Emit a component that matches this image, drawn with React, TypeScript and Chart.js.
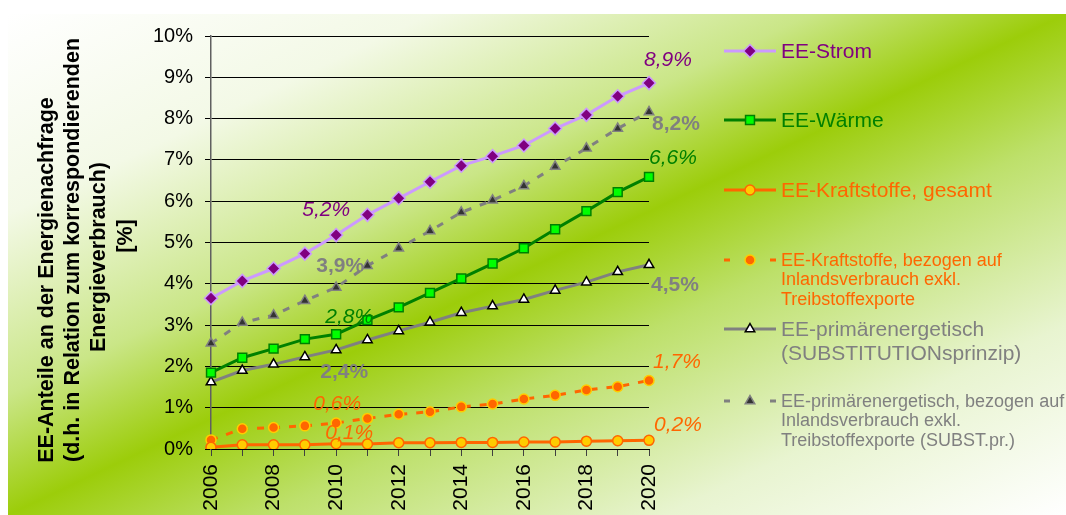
import React, { useEffect, useRef } from 'react';
import { Chart, registerables } from 'chart.js';
import { drawPoint } from 'chart.js/helpers';

Chart.register(...registerables);

// Years on the x axis
const years = ['2006', '2007', '2008', '2009', '2010', '2011', '2012', '2013', '2014', '2015', '2016', '2017', '2018', '2019', '2020'];

// Shares of renewables in %
const eeStrom = [3.65, 4.07, 4.37, 4.73, 5.18, 5.67, 6.07, 6.47, 6.86, 7.09, 7.35, 7.76, 8.09, 8.54, 8.86];
const eeWaerme = [1.85, 2.21, 2.43, 2.66, 2.78, 3.12, 3.43, 3.78, 4.13, 4.49, 4.86, 5.32, 5.76, 6.22, 6.59];
const eeKraftGesamt = [0.04, 0.1, 0.1, 0.1, 0.13, 0.12, 0.15, 0.15, 0.16, 0.16, 0.17, 0.17, 0.19, 0.2, 0.21];
const eeKraftInland = [0.22, 0.49, 0.52, 0.56, 0.63, 0.74, 0.84, 0.9, 1.02, 1.09, 1.21, 1.3, 1.43, 1.51, 1.66];
const eePrimaer = [1.62, 1.9, 2.05, 2.23, 2.4, 2.64, 2.86, 3.07, 3.3, 3.46, 3.62, 3.84, 4.04, 4.29, 4.46];
const eePrimaerInland = [2.56, 3.06, 3.24, 3.59, 3.91, 4.44, 4.86, 5.28, 5.73, 6.02, 6.37, 6.84, 7.28, 7.76, 8.16];

// Y axis ticks
const yTicks = [0, 1, 2, 3, 4, 5, 6, 7, 8, 9, 10];

// Legend texts
const legendStrom = ['EE-Strom'];
const legendWaerme = ['EE-Wärme'];
const legendKraftGesamt = ['EE-Kraftstoffe, gesamt'];
const legendKraftInland = ['EE-Kraftstoffe, bezogen auf', 'Inlandsverbrauch exkl.', 'Treibstoffexporte'];
const legendPrimaer = ['EE-primärenergetisch', '(SUBSTITUTIONsprinzip)'];
const legendPrimaerInland = ['EE-primärenergetisch, bezogen auf', 'Inlandsverbrauch exkl.', 'Treibstoffexporte (SUBST.pr.)'];

// Y axis title lines
const yTitle = ['EE-Anteile an der Energienachfrage', '(d.h. in Relation zum korrespondierenden', 'Energieverbrauch)', '[%]'];

const FONT = "'Liberation Sans', Arial, sans-serif";

type LabelSpec = { index: number; dx: number; dy: number };

const fmt = (v: number) => v.toFixed(1).replace('.', ',') + '%';

// Per-series styling, value-label placement and legend placement
const seriesStyles = [
  {
    label: legendStrom, data: eeStrom, line: '#cc99ff', color: '#800080', dash: [] as number[],
    pointStyle: 'rectRot', radius: 6.5, fill: '#800080', border: '#cc99ff',
    valueFont: 'italic', labels: [{ index: 4, dx: -10, dy: -25 }, { index: 14, dx: 19, dy: -23 }] as LabelSpec[],
    legend: { size: 21, lineH: 24, y: 51 },
  },
  {
    label: legendWaerme, data: eeWaerme, line: '#008000', color: '#008000', dash: [] as number[],
    pointStyle: 'rect', radius: 6.3, fill: '#00ff00', border: '#008000',
    valueFont: 'italic', labels: [{ index: 4, dx: 13, dy: -17 }, { index: 14, dx: 24, dy: -19 }] as LabelSpec[],
    legend: { size: 21, lineH: 24, y: 120 },
  },
  {
    label: legendKraftGesamt, data: eeKraftGesamt, line: '#ff6600', color: '#ff6600', dash: [] as number[],
    pointStyle: 'circle', radius: 5, fill: '#ffcc00', border: '#ff6600',
    valueFont: 'italic', labels: [{ index: 4, dx: 13, dy: -10 }, { index: 14, dx: 29, dy: -15 }] as LabelSpec[],
    legend: { size: 21, lineH: 24, y: 190 },
  },
  {
    label: legendKraftInland, data: eeKraftInland, line: '#ff6600', color: '#ff6600', dash: [7, 9],
    pointStyle: 'circle', radius: 5, fill: '#ff6600', border: '#ffcc00',
    valueFont: 'italic', labels: [{ index: 4, dx: 1, dy: -19 }, { index: 14, dx: 28, dy: -18 }] as LabelSpec[],
    legend: { size: 18, lineH: 19.5, y: 260 },
  },
  {
    label: legendPrimaer, data: eePrimaer, line: '#808080', color: '#808080', dash: [] as number[],
    pointStyle: 'triangle', radius: 5.5, fill: '#ffffff', border: '#000000',
    valueFont: 'bold', labels: [{ index: 4, dx: 8, dy: 22 }, { index: 14, dx: 26, dy: 20 }] as LabelSpec[],
    legend: { size: 21, lineH: 24, y: 329 },
  },
  {
    label: legendPrimaerInland, data: eePrimaerInland, line: '#808080', color: '#808080', dash: [7, 9],
    pointStyle: 'triangle', radius: 5.5, fill: '#333333', border: '#808080',
    valueFont: 'bold', labels: [{ index: 4, dx: 4, dy: -21 }, { index: 14, dx: 27, dy: 12 }] as LabelSpec[],
    legend: { size: 18, lineH: 19.5, y: 401 },
  },
];

// Draws value labels next to selected points
const valueLabelPlugin = {
  id: 'valueLabels',
  afterDatasetsDraw(chart: any) {
    const ctx = chart.ctx;
    ctx.save();
    ctx.textAlign = 'center';
    ctx.textBaseline = 'middle';
    seriesStyles.forEach((s, di) => {
      const meta = chart.getDatasetMeta(di);
      s.labels.forEach((l) => {
        const el = meta.data[l.index];
        if (!el) return;
        ctx.font = `${s.valueFont} 21px ${FONT}`;
        ctx.fillStyle = s.color;
        ctx.fillText(fmt(s.data[l.index]), el.x + l.dx, el.y + l.dy);
      });
    });
    ctx.restore();
  },
};

// Legend on the right side with line samples and markers
const sideLegendPlugin = {
  id: 'sideLegend',
  afterDraw(chart: any) {
    const ctx = chart.ctx;
    const x0 = 724;
    const x1 = 776;
    const mx = 750;
    const tx = 781;
    ctx.save();
    seriesStyles.forEach((s) => {
      const y = s.legend.y;
      ctx.strokeStyle = s.line;
      ctx.lineWidth = 3;
      ctx.setLineDash([]);
      ctx.beginPath();
      if (s.dash.length) {
        ctx.moveTo(x0, y); ctx.lineTo(x0 + 6, y);
        ctx.moveTo(x1 - 6, y); ctx.lineTo(x1, y);
      } else {
        ctx.moveTo(x0, y); ctx.lineTo(x1, y);
      }
      ctx.stroke();
      ctx.fillStyle = s.fill;
      ctx.strokeStyle = s.border;
      ctx.lineWidth = 1.5;
      drawPoint(ctx, { pointStyle: s.pointStyle, radius: s.radius, borderWidth: 1.5, rotation: 0 } as any, mx, y);
      ctx.font = `${s.legend.size}px ${FONT}`;
      ctx.fillStyle = s.color;
      ctx.textAlign = 'left';
      ctx.textBaseline = 'middle';
      s.label.forEach((t, i) => ctx.fillText(t, tx, y + 1 + i * s.legend.lineH));
    });
    ctx.restore();
  },
};

// Rotated multi-line y axis title
const yTitlePlugin = {
  id: 'yTitle',
  afterDraw(chart: any) {
    const ctx = chart.ctx;
    const xs = [47, 73, 99, 126];
    const ys = [280, 250, 257, 236];
    ctx.save();
    ctx.font = `bold 21.5px ${FONT}`;
    ctx.fillStyle = '#000000';
    ctx.textAlign = 'center';
    ctx.textBaseline = 'middle';
    yTitle.forEach((t, i) => {
      ctx.save();
      ctx.translate(xs[i], ys[i]);
      ctx.rotate(-Math.PI / 2);
      ctx.fillText(t, 0, 0);
      ctx.restore();
    });
    ctx.restore();
  },
};

export default function App() {
  const ref = useRef<HTMLCanvasElement | null>(null);

  useEffect(() => {
    if (!ref.current) return;
    const chart = new Chart(ref.current, {
      type: 'line',
      data: {
        labels: years,
        datasets: seriesStyles.map((s) => ({
          label: s.label.join(' '),
          data: s.data,
          borderColor: s.line,
          borderWidth: 3,
          borderDash: s.dash,
          tension: 0,
          fill: false,
          pointStyle: s.pointStyle as any,
          pointRadius: s.radius,
          pointBackgroundColor: s.fill,
          pointBorderColor: s.border,
          pointBorderWidth: 1.5,
        })),
      },
      options: {
        animation: false,
        responsive: false,
        devicePixelRatio: 1,
        layout: { padding: { top: 36, right: 417, bottom: 0, left: 0 } },
        plugins: { legend: { display: false }, tooltip: { enabled: false } },
        scales: {
          x: {
            offset: false,
            afterFit: (axis: any) => { axis.height = 66; },
            grid: { display: true, drawOnChartArea: false, drawTicks: true, tickLength: 7, color: '#404040', lineWidth: 1 },
            border: { display: true, color: '#000000', width: 1 },
            ticks: {
              autoSkip: false,
              maxRotation: 90,
              minRotation: 90,
              padding: 8,
              color: '#000000',
              font: { family: FONT, size: 21 },
              callback: (_v: any, i: number) => (Number(years[i]) % 2 === 0 ? years[i] : ''),
            },
          },
          y: {
            min: yTicks[0],
            max: yTicks[yTicks.length - 1],
            afterFit: (axis: any) => { axis.width = 211; },
            afterBuildTicks: (axis: any) => { axis.ticks = yTicks.map((v) => ({ value: v })); },
            grid: { color: '#000000', lineWidth: 1, tickLength: 6, drawTicks: true },
            border: { display: true, color: '#606060', width: 1.5 },
            ticks: {
              padding: 12,
              color: '#000000',
              font: { family: FONT, size: 20 },
              callback: (v: any) => `${v}%`,
            },
          },
        },
      },
      plugins: [valueLabelPlugin, sideLegendPlugin, yTitlePlugin],
    });
    return () => chart.destroy();
  }, []);

  return (
    <div style={{ position: 'absolute', left: 0, top: 0, width: 1066, height: 515, background: '#ffffff', overflow: 'hidden' }}>
      <div
        style={{
          position: 'absolute', left: 8, top: 14, width: 1058, height: 501,
          background: 'linear-gradient(to bottom right, #ffffff 0%, #f3f9e6 20%, #cae687 38%, #9ccd0a 50%, #bde06a 62%, #e8f4d0 81%, #ffffff 100%)',
        }}
      />
      <canvas ref={ref} width={1066} height={515} style={{ position: 'absolute', left: 0, top: 0 }} />
    </div>
  );
}
